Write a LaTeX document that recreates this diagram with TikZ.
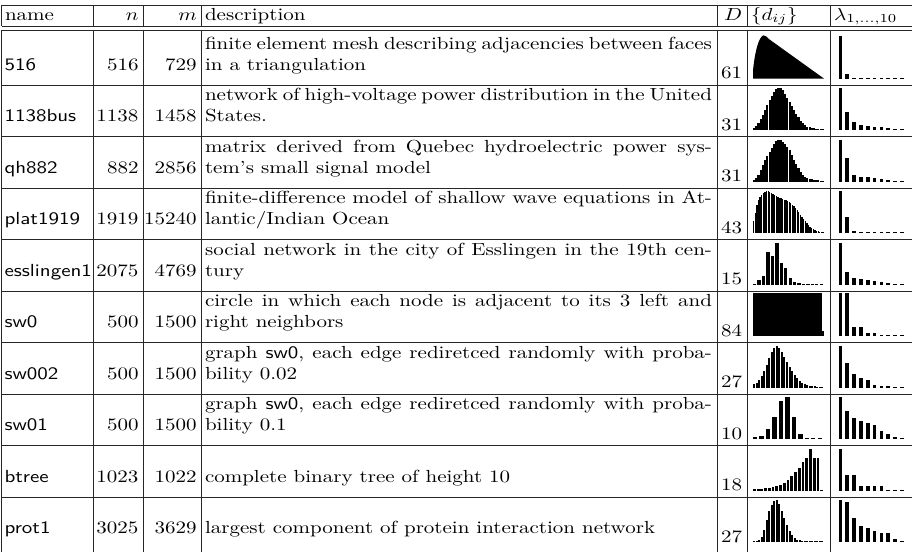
\documentclass[tikz,border=0pt]{standalone}
\usepackage{graphicx}
% text is set slightly wide, as in the table it draws
\newcommand\sq[1]{\scalebox{1.05}[0.875]{#1}}
% one table row: #1 index, #2 bottom y, #3 name, #4 n, #5 m, #6 first line, #7 second line, #8 D
\newcommand\tabrow[8]{%
  \node[lt] (nm#1) at (4.5,#2-15) {\sq{\sffamily #3}};
  \node[rt] (n#1) at (138.5,#2-15) {\sq{#4}};
  \node[rt] (m#1) at (196.7,#2-15) {\sq{#5}};
  \node[lt] (da#1) at (205,#2-36) {\sq{\makebox[241.4pt][s]{#6}}};
  \node[lt] (db#1) at (205,#2-15) {\sq{#7}};
  \node[rt] (D#1) at (742,#2-6.7) {\sq{#8}};
}
% a row whose description has a single line
\newcommand\tabrowone[7]{%
  \node[lt] (nm#1) at (4.5,#2-15) {\sq{\sffamily #3}};
  \node[rt] (n#1) at (138.5,#2-15) {\sq{#4}};
  \node[rt] (m#1) at (196.7,#2-15) {\sq{#5}};
  \node[lt] (db#1) at (205,#2-15) {\sq{#6}};
  \node[rt] (D#1) at (742,#2-6.7) {\sq{#7}};
}
% distance histogram: #1 baseline y, #2 bin pitch, #3 bar width, #4 heights
\newcommand\dist[4]{%
  \foreach \h [count=\i from 0] in {#4}
    \fill (753+\i*#2,#1) rectangle ++(#3,-\h);
}
% ten largest eigenvalues: #1 baseline y, #2 heights
\newcommand\lam[2]{%
  \foreach \h [count=\i from 0] in {#2}
    \fill (838.5+\i*6.85,#1) rectangle ++(3.6,-\h);
}
\begin{document}
\begin{tikzpicture}[x=0.5pt,y=-0.5pt,
  rule/.style={line width=0.5pt, black!85},
  cell/.style={inner sep=0pt, outer sep=0pt},
  lt/.style={cell, anchor=base west},
  rt/.style={cell, anchor=base east}]
\useasboundingbox (0,0) rectangle (912,552);

% horizontal rules
\draw[rule] (1.5,5) -- (912,5);
\draw[rule] (1.5,26) -- (912,26);
\draw[rule] (1.5,30) -- (912,30);
\foreach \y in {85.3,136.8,188.3,239.8,291.3,342.8,394.3,445.8,497.3}
  \draw[rule] (1.5,\y) -- (912,\y);
% vertical rules
\foreach \x in {1.5,93.5,143.5,201,717,747.7,830} {
  \draw[rule] (\x,5) -- (\x,26);
  \draw[rule] (\x,30) -- (\x,552);
}

% header
\node[lt] (hname) at (5,20) {\sq{name}};
\node[rt] (hn) at (138.5,20) {\sq{$n$}};
\node[rt] (hm) at (196.7,20) {\sq{$m$}};
\node[lt] (hdesc) at (205,20) {\sq{description}};
\node[rt] (hD) at (742,20) {\sq{$D$}};
\node[lt] (hd) at (751,20) {\sq{$\{d_{ij}\}$}};
\node[lt] (hl) at (834,20) {\sq{$\lambda_{1,\ldots,10}$}};

% rows
\tabrow{1}{85.3}{516}{516}{729}{finite element mesh describing adjacencies between faces}{in a triangulation}{61}
\tabrow{2}{136.8}{1138bus}{1138}{1458}{network of high-voltage power distribution in the United}{States.}{31}
\tabrow{3}{188.3}{qh882}{882}{2856}{matrix derived from Quebec hydroelectric power sys-}{tem's small signal model}{31}
\tabrow{4}{239.8}{plat1919}{1919}{15240}{finite-difference model of shallow wave equations in At-}{lantic/Indian Ocean}{43}
\tabrow{5}{291.3}{esslingen1}{2075}{4769}{social network in the city of Esslingen in the 19th cen-}{tury}{15}
\tabrow{6}{342.8}{sw0}{500}{1500}{circle in which each node is adjacent to its 3 left and}{right neighbors}{84}
\tabrow{7}{394.3}{sw002}{500}{1500}{graph \textsf{sw0}, each edge rediretced randomly with proba-}{bility 0.02}{27}
\tabrow{8}{445.8}{sw01}{500}{1500}{graph \textsf{sw0}, each edge rediretced randomly with proba-}{bility 0.1}{10}
\tabrowone{9}{497.3}{btree}{1023}{1022}{complete binary tree of height 10}{18}
\tabrowone{10}{548.8}{prot1}{3025}{3629}{largest component of protein interaction network}{27}

% distance distributions
\fill (753,78.6) -- (753,70.6) .. controls (755,50.6) and (759,36.6) .. (763.5,35.3)
  .. controls (766,35.1) and (767,37.6) .. (769,39.1) -- (824,78.6) -- cycle;
\dist{130.1}{2.22}{2.1}{2,4,7,11,15,20,25,30,34,38,41,42,42,40,36,32,28,24,20,16,13,9,7,5,3.5,3,2.5,2,1.5,1.2,1,1}
\dist{181.6}{2.22}{2.1}{2,4,7,12,17,22,26,30,34,38,41,42,42,40,38,35,32,27,22,18,14,10,7,5,4,3,2.5,2,1.5,1.2,1,1}
\dist{233.1}{1.614}{1.3}{12,20,28,33,36,38,40,41,42,42,41,40,39,38,37,36,35.5,35,34,33.5,33,32,31,30,28.5,27,25,23,21,18.5,16,14,12,10,8,6.5,5,4,3,2.2,1.7,1.3,1,1}
\dist{284.6}{4.44}{3.3}{1,5,9,33,29,42,22,17,7,3,2,1,1,1,1,1}
\fill (753,336.1) rectangle (822,293.4);
\fill (822,336.1) rectangle (823.5,331.1);
\dist{387.6}{2.536}{2.0}{4,5,8,12,17,23,30,36,40,42,40,36,31,26,21,17,13,10,7,5,3.5,2.5,2,1.5,1.2,1,1,1}
\dist{439.1}{6.45}{4.4}{2,3,10,22,38,42,22,5,1,1,1}
\dist{490.6}{3.737}{2.8}{1.2,1.5,1.8,2.2,2.8,3.5,4.5,6,8,11,15,19,23,29,33,42,33,33,1}
\dist{542.1}{2.536}{2.0}{1,1.5,2,5,12,22,31,37,41,42,38,31,24,17,11,7,4,2.5,2,1.5,1.2,1,1,1,1,1,1,1}

% leading eigenvalues
\lam{78.6}{43,5,1,1,1,1,1,1,1,1}
\lam{130.1}{42,18,7.7,5.3,4.3,3.3,2.7,2,1,1}
\lam{181.6}{42,24,7,5,4.3,3.3,2.3,1.7,1,1}
\lam{233.1}{42,16,2.3,1.5,1,1,1,1,1,1}
\lam{284.6}{42,12.3,6.7,5.7,4.3,3.3,2.7,1.7,1,1}
\lam{336.1}{42.7,42.7,9.3,9.3,3.3,3.3,1,1,1,1}
\lam{387.6}{42,25,14,10,7.7,2.7,2,1.7,1,1}
\lam{439.1}{42,28,21,18.3,16,14,8.3,5,1.7,1}
\lam{490.6}{42,15.7,15.7,5,5,5,5,1,1,1}
\lam{542.1}{42,40,24,16,14,10.7,9.3,9.3,2.7,1}
\end{tikzpicture}
\end{document}
